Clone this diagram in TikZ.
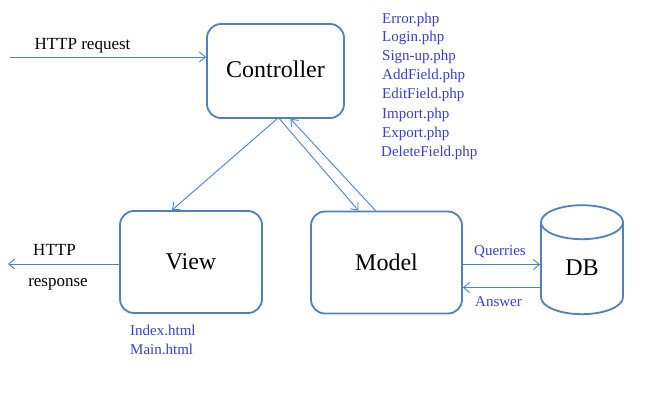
\documentclass[tikz,border=0pt]{standalone}
\usepackage{fontspec}
\setmainfont{Liberation Serif}
\usepackage{tikz}
\usetikzlibrary{arrows.meta}
\usetikzlibrary{shapes.geometric}
\definecolor{boxblue}{RGB}{79,129,189}
\definecolor{fileblue}{RGB}{60,60,210}

\begin{document}
\begin{tikzpicture}[x=1pt, y=-1pt,
  box/.style={draw=boxblue, line width=1.8pt, rounded corners=14pt, font=\fontsize{24}{28}\selectfont},
  link/.style={draw=boxblue, line width=0.9pt, ->, >={Straight Barb[length=6pt,width=10pt]}},
  lbl/.style={anchor=base, font=\fontsize{17}{20}\selectfont},
  file/.style={anchor=base west, text=fileblue, inner sep=0pt, font=\fontsize{15}{18}\selectfont}]

\useasboundingbox (0,0) rectangle (649,402);

% Draw the four blocks
\node[box, minimum width=137pt, minimum height=94pt, text depth=4pt] (ctrl) at (275.5,71) {Controller};
\node[box, minimum width=142pt, minimum height=102pt] (view)  at (191,262)   {View};
\node[box, minimum width=151pt, minimum height=102pt] (model) at (386.5,262.5) {Model};
\node[draw=boxblue, line width=1.8pt, cylinder, shape border rotate=90, aspect=0.85,
      minimum height=109pt, minimum width=82pt, text depth=9pt,
      font=\fontsize{24}{28}\selectfont] (db) at (582,272) {DB};

% HTTP in and out
\coordinate (req)  at (10,57);
\coordinate (resp) at (8,264);
\draw[link] (req) -- ([yshift=14pt]ctrl.west);
\node[lbl] (reqlbl) at (82.5,49) {HTTP request};
\draw[link] ([yshift=-2pt]view.west) -- (resp);
\node[lbl] (resplbl)  at (54.5,255) {HTTP};
\node[lbl] (resplblb) at (58,286)   {response};

% Controller -- View -- Model
\draw[link] ([xshift=1.5pt]ctrl.south) -- ([xshift=-19pt]view.north);
\draw[link] ([xshift=4pt]ctrl.south)   -- ([xshift=-28pt]model.north);
\draw[link] ([xshift=-11pt]model.north) -- ([xshift=15pt]ctrl.south);

% Model -- DB
\coordinate (qry) at ([yshift=-2pt]model.east);
\coordinate (ans) at ([yshift=-25pt]model.east);
\draw[link] (qry) -- (qry -| db.west);
\draw[link] (ans -| db.west) -- (ans);
\node[file, anchor=base] (qrylbl) at (500,255)   {Querries};
\node[file, anchor=base] (anslbl) at (498.5,306) {Answer};

% Controller files
\node[file] (err)  at (382,23)  {Error.php};
\node[file] (login) at (382,41) {Login.php};
\node[file] (sign) at (382,60)  {Sign-up.php};
\node[file] (add)  at (382,79)  {AddField.php};
\node[file] (edit) at (382,98)  {EditField.php};
\node[file] (imp)  at (382,118) {Import.php};
\node[file] (exp)  at (382,137) {Export.php};
\node[file] (del)  at (381,156) {DeleteField.php};

% View files
\node[file] (index) at (130,335) {Index.html};
\node[file] (main)  at (130,354) {Main.html};

\end{tikzpicture}
\end{document}
